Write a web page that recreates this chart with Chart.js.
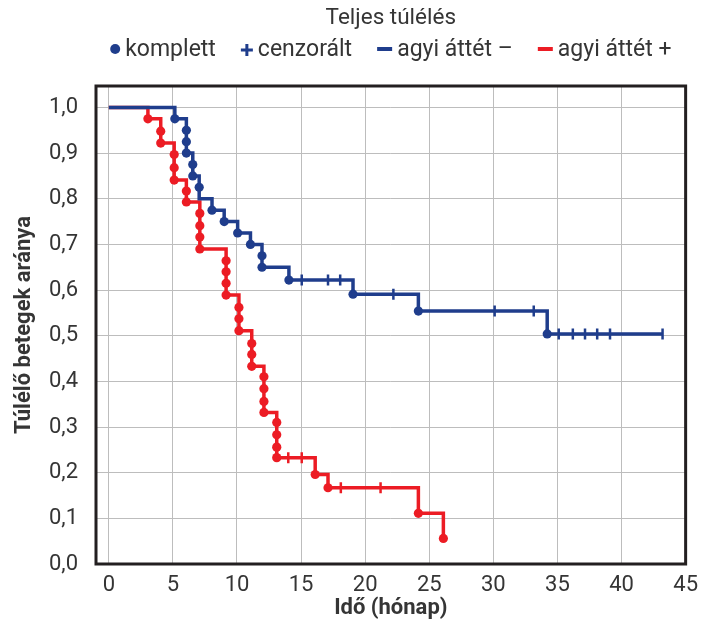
<!DOCTYPE html>
<html lang="hu">
<head>
<meta charset="utf-8">
<script src="https://cdn.jsdelivr.net/npm/chart.js@4/dist/chart.umd.min.js"></script>
<style>
  html, body { margin: 0; padding: 0; background: #fff; }
</style>
</head>
<body>
<canvas id="tulelesChart" width="706" height="628"></canvas>
<script>
const KEK = '#1f3d8c', PIROS = '#ec1c24', SZOVEG = '#353535';

// agyi áttét – : lépcsők (idő, túlélés), halálesetek pontjai, cenzorált idők
const kekLepcsoT = [0, 5.15, 6.05, 6.55, 7.05, 8.05, 9, 10.05, 11.05, 11.95, 14.05, 19.05, 24.15, 34.2, 43.2];
const kekLepcsoS = [1, 0.975, 0.9, 0.85, 0.8, 0.775, 0.75, 0.725, 0.7, 0.65, 0.622, 0.591, 0.554, 0.504, 0.504];
const kekPontT = [5.15, 6.05, 6.05, 6.05, 6.55, 6.55, 7.05, 8.05, 9, 10.05, 11.05, 11.95, 11.95, 14.05, 19.05, 24.15, 34.2];
const kekPontS = [0.975, 0.95, 0.925, 0.9, 0.875, 0.85, 0.825, 0.775, 0.75, 0.725, 0.7, 0.675, 0.65, 0.622, 0.591, 0.554, 0.504];
const kekCenzT = [15.05, 17.1, 18.05, 22.2, 30.1, 33.15, 35.1, 36.2, 37.15, 38.1, 39.1, 43.2];

// agyi áttét +
const pirosLepcsoT = [0, 3.05, 4.05, 5.1, 6.05, 7.1, 9.15, 10.15, 11.15, 12.1, 13.1, 16.1, 17.1, 24.15, 26.1];
const pirosLepcsoS = [1, 0.975, 0.922, 0.841, 0.793, 0.69, 0.589, 0.511, 0.433, 0.332, 0.233, 0.196, 0.167, 0.111, 0.056];
const pirosPontT = [3.05, 4.05, 4.05, 5.1, 5.1, 5.1, 6.05, 6.05, 7.1, 7.1, 7.1, 7.1, 9.15, 9.15, 9.15, 9.15, 10.15, 10.15, 10.15,
                    11.15, 11.15, 11.15, 12.1, 12.1, 12.1, 12.1, 13.1, 13.1, 13.1, 13.1, 16.1, 17.1, 24.15, 26.1];
const pirosPontS = [0.975, 0.948, 0.922, 0.897, 0.868, 0.841, 0.817, 0.793, 0.768, 0.741, 0.716, 0.69, 0.664, 0.64, 0.615, 0.589,
                    0.562, 0.537, 0.511, 0.483, 0.459, 0.433, 0.41, 0.384, 0.356, 0.332, 0.31, 0.283, 0.256, 0.233, 0.196, 0.167, 0.111, 0.056];
const pirosCenzT = [14, 15.05, 18.1, 21.2];

const xTicks = [0, 5, 10, 15, 20, 25, 30, 35, 40, 45];
const yTicks = [0, 0.1, 0.2, 0.3, 0.4, 0.5, 0.6, 0.7, 0.8, 0.9, 1.0];

const legendItems = [
    { text: 'komplett', mark: 'dot', color: KEK },
    { text: 'cenzorált', mark: 'plus', color: KEK },
    { text: 'agyi áttét –', mark: 'dash', color: KEK },
    { text: 'agyi áttét +', mark: 'dash', color: PIROS }
];

const parok = (xs, ys) => xs.map((x, i) => ({ x, y: ys[i] }));
const szintIdoben = (ts, ss, t) => {
    let s = ss[0];
    ts.forEach((x, i) => { if (x <= t) s = ss[i]; });
    return s;
};

function gorbe(t, s, pT, pS, cT, color) {
    return [
        {
            data: parok(t, s), showLine: true, stepped: 'before',
            borderColor: color, borderWidth: 3.5, pointRadius: 0, fill: false,
            borderCapStyle: 'butt', borderJoinStyle: 'miter'
        },
        {
            data: parok(pT, pS), showLine: false,
            pointRadius: 4.6, pointBackgroundColor: color, pointBorderWidth: 0
        },
        {
            data: cT.map(x => ({ x, y: szintIdoben(t, s, x) })), showLine: false,
            pointStyle: 'line', rotation: 90, pointRadius: 5.5,
            pointBorderColor: color, pointBorderWidth: 2.5
        }
    ];
}

const keret = {
    id: 'keret',
    afterDatasetsDraw(chart) {
        const { ctx, chartArea: a } = chart;
        ctx.save();
        ctx.strokeStyle = '#231f20';
        ctx.lineWidth = 3;
        ctx.strokeRect(a.left, a.top, a.right - a.left, a.bottom - a.top);
        ctx.restore();
    }
};

const jelmagyarazat = {
    id: 'jelmagyarazat',
    afterDraw(chart) {
        const { ctx, chartArea } = chart;
        ctx.save();
        ctx.font = '23px Roboto';
        const markW = { dot: 10, plus: 12, dash: 15 };
        const widths = legendItems.map(it => markW[it.mark] + 5 + ctx.measureText(it.text).width);
        const total = widths.reduce((a, b) => a + b, 0) + 25 * (legendItems.length - 1);
        let x = (chartArea.left + chartArea.right) / 2 - total / 2;
        const y = 49;
        legendItems.forEach((it, i) => {
            ctx.fillStyle = it.color;
            ctx.strokeStyle = it.color;
            if (it.mark === 'dot') {
                ctx.beginPath();
                ctx.arc(x + 5, y, 5, 0, Math.PI * 2);
                ctx.fill();
            } else if (it.mark === 'plus') {
                ctx.lineWidth = 3;
                ctx.beginPath();
                ctx.moveTo(x, y + 1); ctx.lineTo(x + 12, y + 1);
                ctx.moveTo(x + 6, y - 5); ctx.lineTo(x + 6, y + 7);
                ctx.stroke();
            } else {
                ctx.fillRect(x, y - 2, 15, 4);
            }
            ctx.fillStyle = SZOVEG;
            ctx.textBaseline = 'alphabetic';
            ctx.fillText(it.text, x + markW[it.mark] + 5, 56);
            x += widths[i] + 25;
        });
        ctx.restore();
    }
};

new Chart(document.getElementById('tulelesChart'), {
    type: 'scatter',
    data: {
        datasets: [
            ...gorbe(kekLepcsoT, kekLepcsoS, kekPontT, kekPontS, kekCenzT, KEK),
            ...gorbe(pirosLepcsoT, pirosLepcsoS, pirosPontT, pirosPontS, pirosCenzT, PIROS)
        ]
    },
    options: {
        responsive: false,
        animation: false,
        layout: { padding: { left: 0, right: 14, top: 0, bottom: 0 } },
        plugins: {
            legend: { display: false },
            tooltip: { enabled: false },
            title: {
                display: true,
                text: 'Teljes túlélés',
                fullSize: false,
                color: SZOVEG,
                font: { family: 'Roboto', size: 22.5, weight: 'normal', lineHeight: 1.2 },
                padding: { top: 4.5, bottom: 54.5 }
            }
        },
        scales: {
            x: {
                type: 'linear', min: -1, max: 45,
                afterBuildTicks: s => { s.ticks = xTicks.map(value => ({ value })); },
                afterFit: s => { s.height = 64; },
                grid: { color: '#bdbdbd', lineWidth: 1, drawTicks: false },
                border: { display: false },
                ticks: { color: SZOVEG, padding: 8, font: { family: 'Roboto', size: 22 } },
                title: {
                    display: true, text: 'Idő (hónap)', color: SZOVEG,
                    font: { family: 'Roboto', size: 22, weight: 'bold', lineHeight: 1.2 },
                    padding: { top: 0, bottom: 6 }
                }
            },
            y: {
                min: 0, max: 1.047,
                afterBuildTicks: s => { s.ticks = yTicks.map(value => ({ value })); },
                afterFit: s => { s.width = 96; },
                grid: { color: '#bdbdbd', lineWidth: 1, drawTicks: false },
                border: { display: false },
                ticks: {
                    color: SZOVEG, padding: 18, font: { family: 'Roboto', size: 22 },
                    callback: v => v.toFixed(1).replace('.', ',')
                },
                title: {
                    display: true, text: 'Túlélő betegek aránya', color: SZOVEG,
                    font: { family: 'Roboto', size: 22, weight: 'bold', lineHeight: 1.2 },
                    padding: { top: 11, bottom: 0 }
                }
            }
        }
    },
    plugins: [keret, jelmagyarazat]
});
</script>
</body>
</html>
